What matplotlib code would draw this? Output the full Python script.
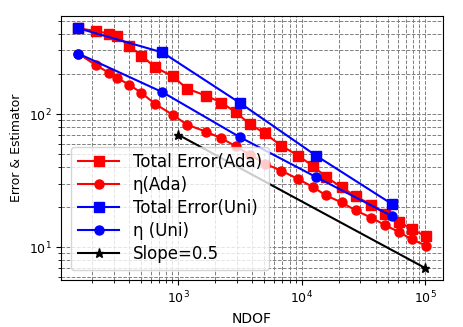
import matplotlib
matplotlib.use("Agg")
import matplotlib.pyplot as plt

ndof_ada = [156, 217, 276, 322, 403, 505, 652, 906, 1176, 1674, 2243, 2934, 3828,
            5035, 6825, 9370, 12470, 15790, 21160, 27490, 36550, 47460, 61540, 77970, 101400]
err_ada = [440, 420, 401, 385, 322, 275, 224, 192, 155.5, 137.7, 122, 103, 83.8,
           71.7, 58, 48.8, 40.5, 33.7, 28.2, 24.1, 20.9, 17.9, 15.6, 13.7, 12.1]
eta_ada = [284, 232, 204, 186, 166, 144, 119, 98.7, 83.4, 73.9, 65.8, 57.3, 49.5,
           42.5, 37.6, 32.6, 28.2, 24.5, 21.7, 18.9, 16.7, 14.7, 13.0, 11.5, 10.3]

ndof_uni = [156, 747, 3177, 13090, 53700]
err_uni = [440, 290, 121, 48.8, 21.2]
eta_uni = [284, 146, 67, 33.7, 17.2]

ndof_slope = [1000, 100000]
slope_vals = [70, 7]

fig = plt.figure(figsize=(4.63, 3.27), dpi=100)
ax = fig.add_axes([0.132, 0.144, 0.825, 0.806])

ax.loglog(ndof_ada, err_ada, 'r-s', lw=1.5, ms=6.5, label='Total Error(Ada)')
ax.loglog(ndof_ada, eta_ada, 'r-o', lw=1.5, ms=6.5, label='η(Ada)')
ax.loglog(ndof_uni, err_uni, 'b-s', lw=1.5, ms=6.5, label='Total Error(Uni)')
ax.loglog(ndof_uni, eta_uni, 'b-o', lw=1.5, ms=6.5, label='η (Uni)')
ax.loglog(ndof_slope, slope_vals, 'k-*', lw=1.5, ms=6.5, label='Slope=0.5')

ax.grid(True, which='both', ls='--', color='gray', lw=0.7)
ax.set_xlabel('NDOF', fontsize=10)
ax.set_ylabel('Error & Estimator', fontsize=9)
ax.tick_params(labelsize=9)
ax.legend(loc='lower left', fontsize=12, handlelength=2.5, labelspacing=0.3,
          borderaxespad=0.6)

fig.savefig('out.png', dpi=100)
